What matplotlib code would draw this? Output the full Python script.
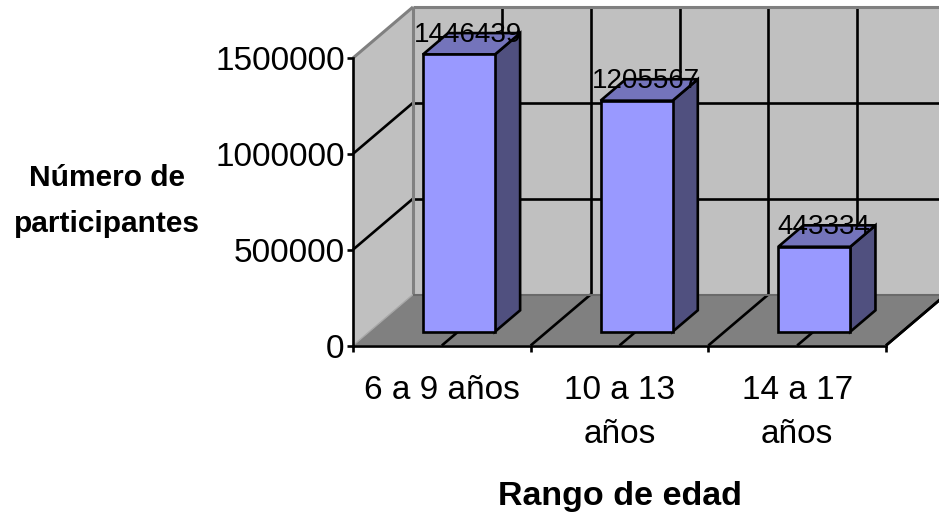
import matplotlib
matplotlib.use('Agg')
import matplotlib.pyplot as plt
from matplotlib.patches import Polygon

categories = ['6 a 9 años', '10 a 13\naños', '14 a 17\naños']
values = [1446439, 1205567, 443334]
y_ticks = [0, 500000, 1000000, 1500000]

WIDTH, HEIGHT = 939, 520
BLACK_LW = 1.9

plt.rcParams['font.family'] = ['Liberation Sans', 'DejaVu Sans']

fig = plt.figure(figsize=(WIDTH / 100, HEIGHT / 100), dpi=100)
ax = fig.add_axes([353 / WIDTH, 1 - 345.5 / HEIGHT, 533 / WIDTH, 287.5 / HEIGHT])
ax.set_xlim(0, len(categories))
ax.set_ylim(0, y_ticks[-1])
ax.patch.set_visible(False)

# oblique depth of the fake 3d box, in data units
depth_x = 60 / (533 / len(categories))
depth_y = 51 / (287.5 / y_ticks[-1])


def project(x, y, depth):
    return x + depth * depth_x, y + depth * depth_y


def face(points, **kwargs):
    ax.add_patch(Polygon(points, closed=True, clip_on=False, **kwargs))


def line(p0, p1, color='black', lw=BLACK_LW, zorder=2):
    ax.plot([p0[0], p1[0]], [p0[1], p1[1]], color=color, lw=lw, clip_on=False,
            solid_capstyle='butt', zorder=zorder)


n = len(categories)
top = y_ticks[-1]

# walls and floor
face([project(0, 0, 1), project(n, 0, 1), project(n, top, 1), project(0, top, 1)],
     facecolor='#c0c0c0', edgecolor='none', zorder=1)
face([project(0, 0, 0), project(0, 0, 1), project(0, top, 1), project(0, top, 0)],
     facecolor='#c0c0c0', edgecolor='none', zorder=1)
face([project(0, 0, 0), project(n, 0, 0), project(n, 0, 1), project(0, 0, 1)],
     facecolor='#808080', edgecolor='none', zorder=1)

# grid, every half category
for i in range(1, 2 * n + 1):
    x = i / 2
    line(project(x, 0, 1), project(x, top, 1))
    line(project(x, 0, 0), project(x, 0, 1))
for v in y_ticks[1:-1]:
    line(project(0, v, 0), project(0, v, 1))
    line(project(0, v, 1), project(n, v, 1))

# grey box edges
edge = '#808080'
line(project(0, top, 0), project(0, top, 1), color=edge, lw=2.2, zorder=3)
line(project(0, top, 1), project(n, top, 1), color=edge, lw=2.2, zorder=3)
line(project(0, 0, 1), project(0, top, 1), color=edge, lw=2.2, zorder=3)
line(project(0, 0, 0), project(0, 0, 1), color='#a8a8a8', lw=1.0, zorder=3)
line(project(0, 0, 1), project(n, 0, 1), color='#6a6a6a', lw=1.5, zorder=3)

# bars
bar_w = 72 / (533 / n)
d0, d1 = 0.27, 0.69
for i, val in enumerate(values):
    x0 = i + (1 - bar_w) / 2 + 0.005
    x1 = x0 + bar_w
    style = dict(edgecolor='black', linewidth=BLACK_LW, joinstyle='miter', zorder=4)
    face([project(x1, 0, d0), project(x1, 0, d1), project(x1, val, d1), project(x1, val, d0)],
         facecolor='#50507f', **style)
    face([project(x0, val, d0), project(x1, val, d0), project(x1, val, d1), project(x0, val, d1)],
         facecolor='#7474bb', **style)
    face([project(x0, 0, d0), project(x1, 0, d0), project(x1, val, d0), project(x0, val, d0)],
         facecolor='#9999ff', **style)
    ax.annotate(str(val), project(i + 0.5, val, 0.44), xytext=(0, 3), textcoords='offset points',
                fontsize=20, ha='center', va='baseline', color='black', zorder=5,
                annotation_clip=False)

# axes
for side in ['top', 'right']:
    ax.spines[side].set_visible(False)
for side in ['left', 'bottom']:
    ax.spines[side].set_linewidth(BLACK_LW)
    ax.spines[side].set_zorder(6)
line(project(n, 0, 0), project(n, 0, 1), zorder=6)

ax.set_yticks(y_ticks)
ax.set_yticklabels([str(v) for v in y_ticks], fontsize=24)
ax.tick_params(axis='y', length=4.5, width=BLACK_LW, pad=1.5)
ax.set_xticks(range(n + 1))
ax.set_xticklabels([])
ax.tick_params(axis='x', which='major', length=4.5, width=BLACK_LW)
ax.set_xticks([i + 0.5 for i in range(n)], minor=True)
ax.set_xticklabels(categories, minor=True, fontsize=24, linespacing=1.55)
ax.tick_params(axis='x', which='minor', length=0, pad=21)

fig.text(107 / WIDTH, 1 - 201 / HEIGHT, 'Número de\nparticipantes', fontsize=21.5, fontweight='bold',
         ha='center', va='center', linespacing=1.8)
fig.text(620 / WIDTH, 1 - 497 / HEIGHT, 'Rango de edad', fontsize=24.5, fontweight='bold',
         ha='center', va='center')

fig.savefig('out.png', dpi=100)
